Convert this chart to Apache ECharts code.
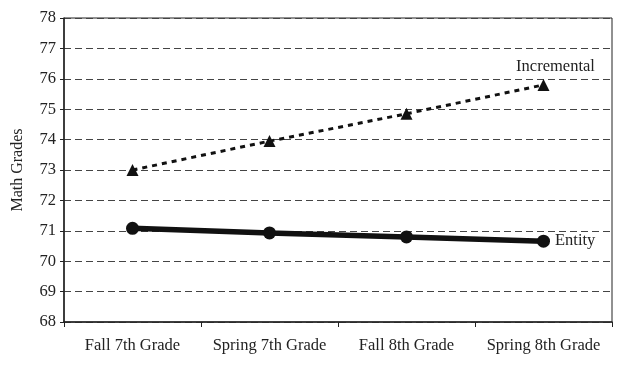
<!DOCTYPE html>
<html><head><meta charset="utf-8">
<script src="https://cdn.jsdelivr.net/npm/echarts@6/dist/echarts.min.js"></script>
<style>html,body{margin:0;padding:0;background:#fff}#c{width:632px;height:366px}</style>
</head><body><div id="c"></div>
<script>
const categories = ["Fall 7th Grade", "Spring 7th Grade", "Fall 8th Grade", "Spring 8th Grade"];
const incremental = [73.0, 73.95, 74.85, 75.8];
const entity = [71.08, 70.93, 70.8, 70.66];
const yTicks = {min: 68, max: 78, interval: 1};
const seriesNames = ["Incremental", "Entity"];

const font = "Liberation Serif";
const chart = echarts.init(document.getElementById('c'));
function withEndLabel(vals, label) {
  return vals.map((v, i) => i === vals.length - 1 ? {value: v, label: label} : v);
}
chart.setOption({
  animation: false,
  grid: {left: 64, right: 20, top: 18, bottom: 44, show: true, borderColor: '#222', borderWidth: 1},
  xAxis: {
    type: 'category', data: categories, boundaryGap: true,
    axisLine: {lineStyle: {color: '#222', width: 1.5}},
    axisTick: {show: true, interval: 0, length: 5, lineStyle: {color: '#222'}},
    axisLabel: {interval: 0, hideOverlap: false, color: '#222', fontFamily: font, fontSize: 16.5, margin: 15}
  },
  yAxis: {
    type: 'value', min: yTicks.min, max: yTicks.max, interval: yTicks.interval,
    name: 'Math Grades', nameLocation: 'middle', nameGap: 38, nameRotate: 90,
    nameTextStyle: {color: '#222', fontFamily: font, fontSize: 16},
    axisLine: {show: true, lineStyle: {color: '#222', width: 1.5}},
    axisTick: {show: true, length: 4, lineStyle: {color: '#222'}},
    axisLabel: {color: '#222', fontFamily: font, fontSize: 16.5, margin: 8},
    splitLine: {show: true, lineStyle: {color: '#444', type: [7, 4], width: 1}}
  },
  series: [
    {
      name: seriesNames[0], type: 'line',
      data: withEndLabel(incremental, {show: true, position: 'top', distance: 4, offset: [12, 0], formatter: seriesNames[0], color: '#222', fontFamily: font, fontSize: 16.5}),
      symbol: 'triangle', symbolSize: 12,
      itemStyle: {color: '#111'},
      lineStyle: {color: '#111', width: 3, type: [5, 5]},
      label: {show: false}, z: 3
    },
    {
      name: seriesNames[1], type: 'line',
      data: withEndLabel(entity, {show: true, position: 'right', distance: 5, formatter: seriesNames[1], color: '#222', fontFamily: font, fontSize: 16.5}),
      symbol: 'circle', symbolSize: 13,
      itemStyle: {color: '#111'},
      lineStyle: {color: '#111', width: 5.5},
      label: {show: false}, z: 3
    }
  ]
});
</script></body></html>
